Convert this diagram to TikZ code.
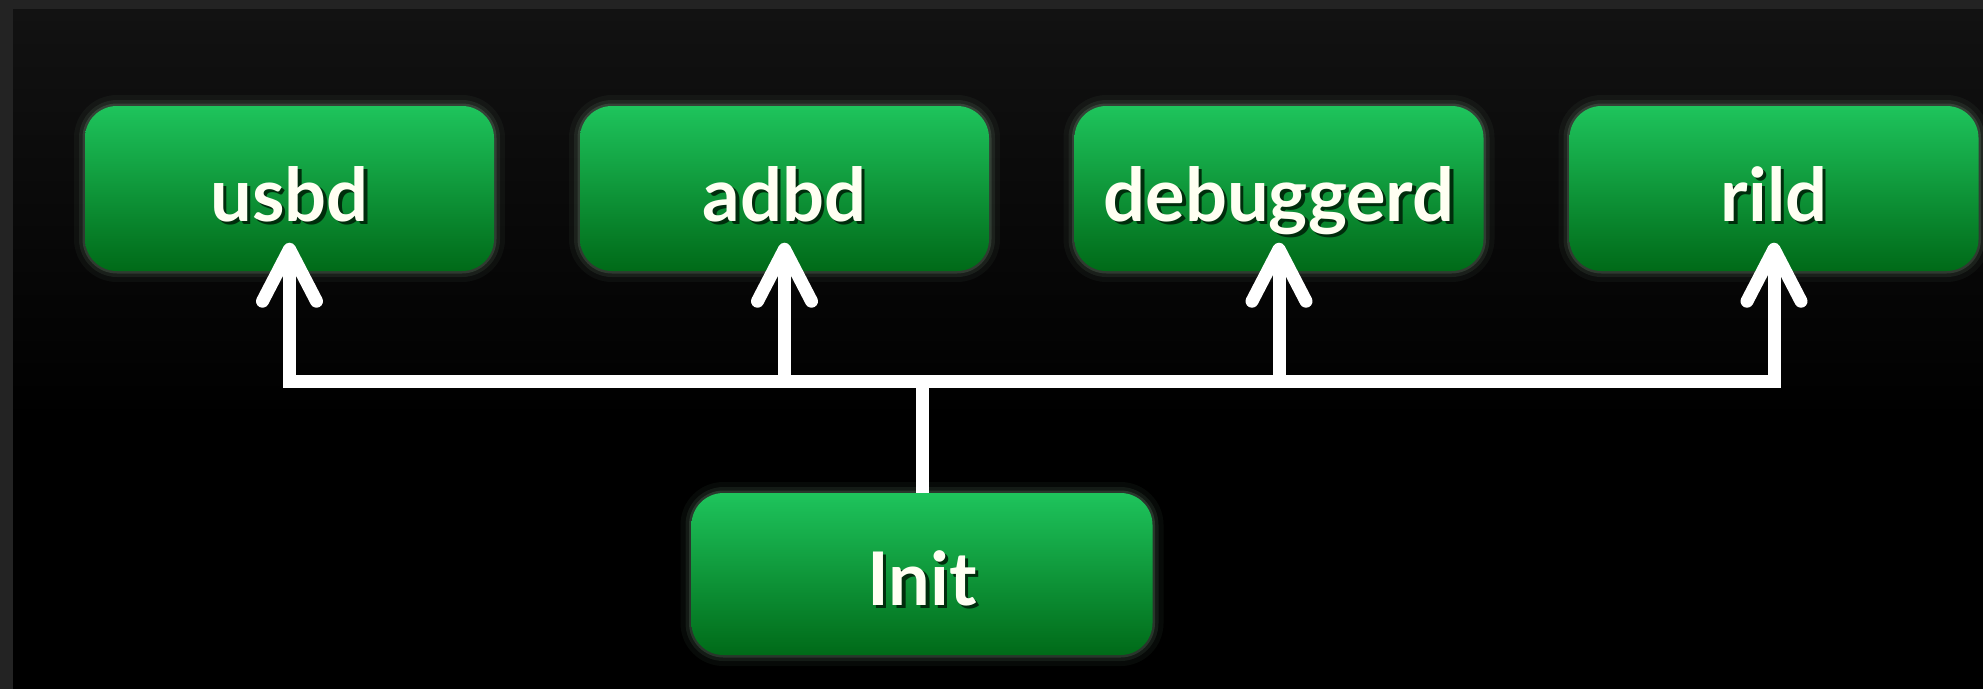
\documentclass[tikz,border=0pt]{standalone}
\usepackage{fontspec}
\setmainfont{Lato}
\usetikzlibrary{calc}
\definecolor{gtop}{RGB}{30,196,92}
\definecolor{gmid}{RGB}{12,150,56}
\definecolor{gbot}{RGB}{0,106,24}
\definecolor{framegrey}{RGB}{35,35,35}
\definecolor{bgtop}{RGB}{18,18,18}
\definecolor{txt}{RGB}{255,255,242}
\definecolor{tshadow}{RGB}{0,45,12}
\definecolor{glow}{RGB}{200,255,210}
\newcommand\shtext[1]{\makebox[0pt][l]{\hspace{3.5pt}\raisebox{-3.5pt}{\textcolor{tshadow}{#1}}}\textcolor{txt}{#1}}
\begin{document}
\begin{tikzpicture}[x=1pt,y=-1pt,
  box/.style={rounded corners=32pt, top color=gtop, middle color=gmid, bottom color=gbot,
    minimum height=165pt, text height=65pt, text depth=0pt, inner sep=0pt,
    font=\fontsize{74}{80}\selectfont\bfseries,
    preaction={draw=glow, draw opacity=.04, line width=22pt},
    preaction={draw=glow, draw opacity=.07, line width=12pt},
    preaction={draw=glow, draw opacity=.12, line width=5pt}},
  conn/.style={draw=white, line width=13pt},
  chev/.style={draw=white, line width=13pt, line cap=round, line join=round}]
\useasboundingbox (0,0) rectangle (1983,689);
\fill[framegrey] (0,0) rectangle (1983,689);
\shade[top color=bgtop, bottom color=black] (13,9) rectangle (1983,420);
\fill[black] (13,419) rectangle (1983,689);

\node[box, minimum width=409pt] (usbd) at (289.5,188.5) {\shtext{usbd}};
\node[box, minimum width=409pt] (adbd) at (784.5,188.5) {\shtext{adbd}};
\node[box, minimum width=409pt] (dbg) at (1279,188.5) {\shtext{debuggerd}};
\node[box, minimum width=409pt] (rild) at (1774,188.5) {\shtext{rild}};
\node[box, minimum width=461pt, minimum height=162pt, text height=62pt] (init) at (922,574) {\shtext{Init}};

\coordinate (bus) at (922,381);
\coordinate (t1) at ($(usbd.south)+(0,-22)$);
\coordinate (t2) at ($(adbd.south)+(0,-22)$);
\coordinate (t3) at ($(dbg.south)+(0,-22)$);
\coordinate (t4) at ($(rild.south)+(0,-22)$);

\draw[conn] (t1) -- (t1 |- bus) -- (t4 |- bus) -- (t4);
\draw[conn] (init.north) -- (init.north |- bus);
\draw[conn] (t2 |- bus) -- (t2);
\draw[conn] (t3 |- bus) -- (t3);

\foreach \t in {t1,t2,t3,t4}
  \draw[chev] ($(\t)+(-27,52)$) -- (\t) -- ($(\t)+(27,52)$);
\end{tikzpicture}
\end{document}
